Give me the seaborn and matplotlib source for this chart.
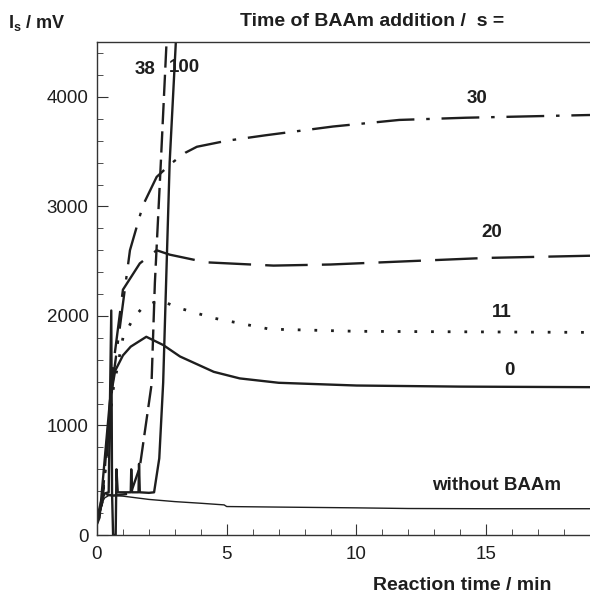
import matplotlib
matplotlib.use("Agg")
import matplotlib.pyplot as plt
import seaborn as sns
import pandas as pd
from matplotlib.ticker import MultipleLocator

# data (time in min, signal in mV)
t_none = [0, 0.1, 0.2, 0.3, 0.45, 0.6, 1.0, 1.5, 2.0, 3.0, 4.0, 4.9, 5.0, 7.0, 10.0, 12.0, 15.0, 19.0]
v_none = [80, 220, 300, 340, 360, 360, 355, 340, 325, 305, 290, 275, 260, 255, 248, 242, 240, 240]

t_0 = [0, 0.1, 0.3, 0.5, 0.7, 1.0, 1.3, 1.9, 2.55, 3.2, 4.5, 5.5, 7.0, 10.0, 14.0, 19.0]
v_0 = [100, 160, 700, 1230, 1500, 1640, 1720, 1810, 1735, 1630, 1490, 1430, 1390, 1365, 1355, 1350]

t_11 = [0, 0.2, 0.4, 0.6, 1.0, 1.4, 1.77, 2.4, 3.2, 4.5, 6.65, 10.0, 19.0]
v_11 = [120, 300, 800, 1300, 1800, 1980, 2080, 2145, 2070, 1980, 1880, 1860, 1850]

t_20 = [0, 0.2, 0.4, 0.6, 1.0, 1.65, 2.3, 2.8, 4.2, 6.8, 9.0, 12.0, 15.0, 19.0]
v_20 = [120, 300, 900, 1500, 2240, 2480, 2600, 2560, 2490, 2460, 2470, 2500, 2530, 2550]

t_30 = [0, 0.2, 0.4, 0.6, 1.27, 1.77, 2.3, 2.9, 3.4, 3.85, 5.0, 6.5, 9.1, 11.65, 14.2, 19.0]
v_30 = [120, 300, 800, 1390, 2600, 3010, 3270, 3400, 3490, 3545, 3600, 3650, 3730, 3790, 3810, 3835]

t_38 = [0, 0.2, 0.4, 0.6, 1.0, 1.3, 1.65, 2.1, 2.23, 2.46, 2.7]
v_38 = [120, 300, 370, 360, 370, 380, 620, 1370, 2300, 3400, 4600]

t_100 = [0, 0.15, 0.3, 0.45, 0.55, 0.58, 0.62, 0.72, 0.75, 0.8, 1.0, 1.3, 1.32, 1.35,
         1.6, 1.62, 1.65, 2.0, 2.2, 2.4, 2.55, 2.7, 2.8, 3.06]
v_100 = [150, 300, 380, 390, 2050, 390, 0, 0, 600, 390, 390, 390, 600, 390,
         390, 650, 390, 385, 390, 700, 1390, 2600, 3400, 4600]

curve_labels = ["38", "100", "30", "20", "11", "0", "without BAAm"]
label_t = [1.85, 3.38, 14.65, 15.2, 15.6, 15.9, 15.4]
label_v = [4250, 4270, 3990, 2760, 2030, 1505, 450]

sns.set_style("ticks")
plt.rcParams['font.family'] = ['Liberation Sans', 'DejaVu Sans']
plt.rcParams['mathtext.fontset'] = 'custom'
plt.rcParams['mathtext.rm'] = 'Liberation Sans'
plt.rcParams['mathtext.bf'] = 'Liberation Sans:bold'

ink = "#1e1e1e"
fig = plt.figure(figsize=(5.9, 5.94), dpi=100)
ax = fig.add_axes([0.1644, 0.0993, 0.8356, 0.8297])

series = [
    (t_none, v_none, "-", 1.0),
    (t_0, v_0, "-", 1.7),
    (t_11, v_11, (0, (1, 5)), 2.0),
    (t_20, v_20, (0, (18, 6)), 1.7),
    (t_30, v_30, (0, (16, 5, 1.5, 5)), 1.7),
    (t_38, v_38, (0, (9, 3)), 1.7),
    (t_100, v_100, "-", 1.7),
]
for tt, vv, ls, lw in series:
    df = pd.DataFrame({"t": tt, "v": vv})
    sns.lineplot(data=df, x="t", y="v", ax=ax, color=ink, linestyle=ls,
                 linewidth=lw, sort=False, estimator=None)

for lab, x, y in zip(curve_labels, label_t, label_v):
    ax.text(x, y, lab, ha="center", va="center", fontsize=13.5, fontweight="bold", color=ink)

ax.set_xlim(0, 19)
ax.set_ylim(0, 4500)
ax.xaxis.set_major_locator(MultipleLocator(5))
ax.xaxis.set_minor_locator(MultipleLocator(1))
ax.yaxis.set_major_locator(MultipleLocator(1000))
ax.yaxis.set_minor_locator(MultipleLocator(200))
ax.tick_params(which="both", direction="in", top=False, right=False, labelsize=13.5,
               colors="#333333", labelcolor=ink)
ax.tick_params(which="major", length=8, pad=6)
ax.tick_params(axis="x", which="major", pad=8)
ax.tick_params(which="minor", length=4)
ax.set_xlabel("")
ax.set_ylabel("")
ax.spines["right"].set_visible(False)
for s in ax.spines.values():
    s.set_color("#333333")
    s.set_linewidth(1.0)

fig.text(0.63, 0.963, "Time of BAAm addition /  s =", ha="center", va="center",
         fontsize=14, fontweight="bold", color=ink)
fig.text(0.063, 0.961, r"I$_\mathbf{s}$ / mV", ha="center", va="center",
         fontsize=13, fontweight="bold", color=ink)
fig.text(0.783, 0.015, "Reaction time / min", ha="center", va="center",
         fontsize=14, fontweight="bold", color=ink)

fig.savefig("out.png", dpi=100)
